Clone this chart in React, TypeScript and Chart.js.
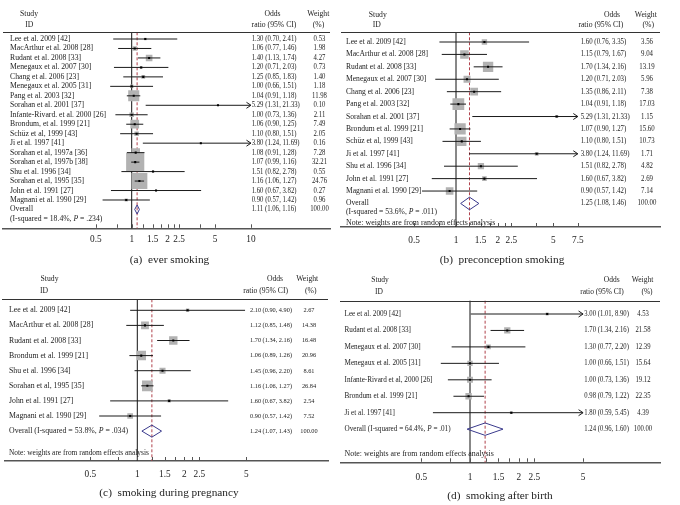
import React, { useEffect, useRef } from 'react';
import { Chart, registerables } from 'chart.js';

Chart.register(...registerables);

const SERIF = '"Liberation Serif", "DejaVu Serif", serif';
const NOTE = 'Note: weights are from random effects analysis';

// ---------- (a) ever smoking ----------
const aStudies = ['Lee et al. 2009 [42]', 'MacArthur et al. 2008 [28]', 'Rudant et al. 2008 [33]', 'Menegaux et al. 2007 [30]', 'Chang et al. 2006 [23]', 'Menegaux et al. 2005 [31]', 'Pang et al. 2003 [32]', 'Sorahan et al. 2001 [37]', 'Infante-Rivard. et al. 2000 [26]', 'Brondum, et al. 1999 [21]', 'Schüz et al, 1999 [43]', 'Ji et al. 1997 [41]', 'Sorahan et al, 1997a [36]', 'Sorahan et al, 1997b [38]', 'Shu et al. 1996 [34]', 'Sorahan et al, 1995 [35]', 'John et al. 1991 [27]', 'Magnani et al. 1990 [29]'];
const aOR = [1.30, 1.06, 1.40, 1.20, 1.25, 1.00, 1.04, 5.29, 1.00, 1.06, 1.10, 3.80, 1.08, 1.07, 1.51, 1.16, 1.60, 0.90];
const aLo = [0.70, 0.77, 1.13, 0.71, 0.85, 0.66, 0.91, 1.31, 0.73, 0.90, 0.80, 1.24, 0.91, 0.99, 0.82, 1.06, 0.67, 0.57];
const aHi = [2.41, 1.46, 1.74, 2.03, 1.83, 1.51, 1.18, 21.33, 1.36, 1.25, 1.51, 11.69, 1.28, 1.16, 2.78, 1.27, 3.82, 1.42];
const aWeight = [0.53, 1.98, 4.27, 0.73, 1.40, 1.18, 11.98, 0.10, 2.11, 7.49, 2.05, 0.16, 7.28, 32.21, 0.55, 24.76, 0.27, 0.96];
const aOverall = [1.11, 1.06, 1.16];
const aI2 = '18.4%';
const aP = '.234';
const aTicks = [0.5, 0.75, 1, 1.25, 1.5, 1.75, 2, 2.25, 2.5, 3.75, 5, 10];
const aTickLabels = ['0.5', '1', '1.5', '2', '2.5', '5', '10'];

// ---------- (b) preconception smoking ----------
const bStudies = ['Lee et al. 2009 [42]', 'MacArthur et al. 2008 [28]', 'Rudant et al. 2008 [33]', 'Menegaux et al. 2007 [30]', 'Chang et al. 2006 [23]', 'Pang et al. 2003 [32]', 'Sorahan et al. 2001 [37]', 'Brondum et al. 1999 [21]', 'Schüz et al, 1999 [43]', 'Ji et al. 1997 [41]', 'Shu et al. 1996 [34]', 'John et al. 1991 [27]', 'Magnani et al. 1990 [29]'];
const bOR = [1.60, 1.15, 1.70, 1.20, 1.35, 1.04, 5.29, 1.07, 1.10, 3.80, 1.51, 1.60, 0.90];
const bLo = [0.76, 0.79, 1.34, 0.71, 0.86, 0.91, 1.31, 0.90, 0.80, 1.24, 0.82, 0.67, 0.57];
const bHi = [3.35, 1.67, 2.16, 2.03, 2.11, 1.18, 21.33, 1.27, 1.51, 11.69, 2.78, 3.82, 1.42];
const bWeight = [3.56, 9.04, 13.19, 5.96, 7.38, 17.03, 1.15, 15.60, 10.73, 1.71, 4.82, 2.69, 7.14];
const bOverall = [1.25, 1.08, 1.46];
const bI2 = '53.6%';
const bP = '.011';
const bTicks = [0.5, 0.75, 1, 1.25, 1.5, 1.75, 2, 2.25, 2.5, 3.75, 5, 7.5];
const bTickLabels = ['0.5', '1', '1.5', '2', '2.5', '5', '7.5'];

// ---------- (c) smoking during pregnancy ----------
const cStudies = ['Lee et al. 2009 [42]', 'MacArthur et al. 2008 [28]', 'Rudant et al. 2008 [33]', 'Brondum et al. 1999 [21]', 'Shu et al. 1996 [34]', 'Sorahan et al, 1995 [35]', 'John et al. 1991 [27]', 'Magnani et al. 1990 [29]'];
const cOR = [2.10, 1.12, 1.70, 1.06, 1.45, 1.16, 1.60, 0.90];
const cLo = [0.90, 0.85, 1.34, 0.89, 0.96, 1.06, 0.67, 0.57];
const cHi = [4.90, 1.48, 2.16, 1.26, 2.20, 1.27, 3.82, 1.42];
const cWeight = [2.67, 14.38, 16.48, 20.96, 8.61, 26.84, 2.54, 7.52];
const cOverall = [1.24, 1.07, 1.43];
const cI2 = '53.8%';
const cP = '.034';
const cTicks = [0.5, 0.75, 1, 1.25, 1.5, 1.75, 2, 2.25, 2.5, 5];
const cTickLabels = ['0.5', '1', '1.5', '2', '2.5', '5'];

// ---------- (d) smoking after birth ----------
const dStudies = ['Lee et al. 2009 [42]', 'Rudant et al. 2008 [33]', 'Menegaux et al. 2007 [30]', 'Menegaux et al. 2005 [31]', 'Infante-Rivard et al, 2000 [26]', 'Brondum et al. 1999 [21]', 'Ji et al. 1997 [41]'];
const dOR = [3.00, 1.70, 1.30, 1.00, 1.00, 0.98, 1.80];
const dLo = [1.01, 1.34, 0.77, 0.66, 0.73, 0.79, 0.59];
const dHi = [8.90, 2.16, 2.20, 1.51, 1.36, 1.22, 5.45];
const dWeight = [4.53, 21.58, 12.39, 15.64, 19.12, 22.35, 4.39];
const dOverall = [1.24, 0.96, 1.60];
const dI2 = '64.4%';
const dP = '.01';
const dTicks = [0.5, 0.75, 1, 1.25, 1.5, 1.75, 2, 2.25, 2.5, 5];
const dTickLabels = ['0.5', '1', '1.5', '2', '2.5', '5'];

const aLayout = {
  left: 0, top: 0, width: 340, height: 270,
  axisL: 3, axisR: 330, x1: 131.7, perDbl: 35.9,
  headerY: 32.3, axisY: 228.3, row0: 39, dy: 9.47,
  labelX: 10, orX: 251.7, wX: 319.5,
  head: { studyX: 29, idX: 29.3, oddsX: 272.5, ratioX: 274, weightX: 318.3, pctX: 318.5, y1: 14, y2: 25, lineL: 3, lineR: 330 },
  labelFont: 7.7, numFont: 7.6, numSX: 0.885, headFont: 7.7, noteFont: 7.8,
  boxK: 3.2, diamondH: 4.5, clip: 10,
  twoLine: true, secondDy: 9.7, noteDy: null,
  tickPad: 6.2,
  caption: '(a)  ever smoking', captionX: 169.5, captionY: 260,
};
const bLayout = {
  left: 340, top: 0, width: 340, height: 270,
  axisL: 341, axisR: 660, x1: 456, perDbl: 41.9,
  headerY: 32.3, axisY: 227, row0: 42, dy: 12.42,
  labelX: 346, orX: 580.7, wX: 647,
  head: { studyX: 377.8, idX: 376.8, oddsX: 612, ratioX: 600.8, weightX: 645.8, pctX: 648.3, y1: 15, y2: 25, lineL: 341, lineR: 660 },
  labelFont: 7.6, numFont: 7.6, numSX: 0.9, headFont: 7.7, noteFont: 7.9,
  boxK: 2.85, diamondH: 6.3, clip: 7.5,
  twoLine: true, secondDy: 9, noteDy: 19,
  tickPad: 8.5,
  caption: '(b)  preconception smoking', captionX: 502, captionY: 260,
};
const cLayout = {
  left: 0, top: 270, width: 340, height: 235,
  axisL: 5, axisR: 328, x1: 137.3, perDbl: 47,
  headerY: 299.3, axisY: 461, row0: 310.3, dy: 15.1,
  labelX: 9, orX: 250, wX: 309,
  head: { studyX: 49.5, idX: 44, oddsX: 275, ratioX: 265.7, weightX: 307.2, pctX: 310.8, y1: 279.3, y2: 290.7, lineL: 2, lineR: 328 },
  labelFont: 7.8, numFont: 7.0, numSX: 0.9, headFont: 7.7, noteFont: 7.4,
  boxK: 2.07, diamondH: 6, clip: 5,
  twoLine: false, secondDy: 0, noteDy: 22,
  tickPad: 8.8,
  caption: '(c)  smoking during pregnancy', captionX: 169, captionY: 493.3,
};
const dLayout = {
  left: 340, top: 270, width: 340, height: 235,
  axisL: 341, axisR: 660, x1: 470, perDbl: 48.7,
  headerY: 300.7, axisY: 462.3, row0: 314, dy: 16.45,
  labelX: 344.5, orX: 584.3, wX: 643,
  head: { studyX: 380, idX: 379, oddsX: 611.7, ratioX: 602, weightX: 642.5, pctX: 647, y1: 280, y2: 291.7, lineL: 340, lineR: 660 },
  labelFont: 7.2, numFont: 7.2, numSX: 0.93, headFont: 7.5, noteFont: 7.9,
  boxK: 1.35, diamondH: 6.2, clip: 5,
  twoLine: false, secondDy: 0, noteDy: 24.8,
  tickPad: 10.5,
  caption: '(d)  smoking after birth', captionX: 500, captionY: 496,
};

function drawRich(ctx: CanvasRenderingContext2D, parts: [string, boolean][], x: number, y: number, size: number) {
  let cx = x;
  ctx.textAlign = 'left';
  for (const [t, it] of parts) {
    ctx.font = `${it ? 'italic ' : ''}${size}px ${SERIF}`;
    ctx.fillText(t, cx, y);
    cx += ctx.measureText(t).width;
  }
}

// numbers are set in a slightly condensed face in the original
function fillCondensed(ctx: CanvasRenderingContext2D, t: string, x: number, y: number, sx: number) {
  const w = ctx.measureText(t).width;
  ctx.fillText(t, x, y, w * sx);
}

function Forest(props: any) {
  const { studies, or, lo, hi, weight, overall, i2, p, ticks, tickLabels, L } = props;
  const ref = useRef<HTMLCanvasElement>(null);

  useEffect(() => {
    const cv = ref.current!;
    const X = (v: number) => v - L.left;
    const Y = (v: number) => v - L.top;
    const n = studies.length;
    const xmin = Math.pow(2, (L.axisL - L.x1) / L.perDbl);
    const xmax = Math.pow(2, (L.axisR - L.x1) / L.perDbl);
    const ymin = -(L.row0 - L.headerY) / L.dy;
    const ymax = ymin + (L.axisY - L.headerY) / L.dy;
    const pts = studies.map((_: string, i: number) => ({ x: or[i], y: i }));
    const fmt = (v: number) => v.toFixed(2);

    const plugin = {
      id: 'forest',
      beforeDatasetsDraw(chart: any) {
        const ctx = chart.ctx;
        const xs = chart.scales.x;
        const a = chart.chartArea;
        ctx.save();
        const p1 = xs.getPixelForValue(1);
        ctx.strokeStyle = '#111';
        ctx.lineWidth = 1;
        ctx.beginPath();
        ctx.moveTo(p1, a.top);
        ctx.lineTo(p1, a.bottom);
        ctx.stroke();
        const po = xs.getPixelForValue(overall[0]);
        ctx.strokeStyle = '#b0404a';
        ctx.setLineDash([3, 2]);
        ctx.beginPath();
        ctx.moveTo(po, a.top);
        ctx.lineTo(po, a.bottom);
        ctx.stroke();
        ctx.restore();
      },
      afterDatasetDraw(chart: any, args: any) {
        if (args.index !== 1) return;
        const ctx = chart.ctx;
        const xs = chart.scales.x;
        const ys = chart.scales.y;
        ctx.save();
        ctx.strokeStyle = '#1a1a1a';
        ctx.lineWidth = 1;
        for (let i = 0; i < n; i++) {
          const y = ys.getPixelForValue(i);
          const xl = xs.getPixelForValue(lo[i]);
          const clipped = hi[i] > L.clip;
          const xh = xs.getPixelForValue(clipped ? L.clip : hi[i]);
          ctx.beginPath();
          ctx.moveTo(xl, y);
          ctx.lineTo(xh, y);
          if (clipped) {
            ctx.moveTo(xh - 4.5, y - 3);
            ctx.lineTo(xh, y);
            ctx.lineTo(xh - 4.5, y + 3);
          }
          ctx.stroke();
        }
        ctx.restore();
      },
      afterDraw(chart: any) {
        const ctx = chart.ctx;
        const xs = chart.scales.x;
        const ys = chart.scales.y;
        const a = chart.chartArea;
        ctx.save();
        ctx.strokeStyle = '#555';
        ctx.lineWidth = 1;
        for (const t of xs.ticks) {
          const px = Math.round(xs.getPixelForValue(t.value)) + 0.5;
          ctx.beginPath();
          ctx.moveTo(px, a.bottom - 0.5);
          ctx.lineTo(px, a.bottom - 4);
          ctx.stroke();
        }
        ctx.fillStyle = '#222';
        ctx.textBaseline = 'middle';
        ctx.textAlign = 'center';
        ctx.font = `${L.headFont}px ${SERIF}`;
        const h = L.head;
        ctx.fillText('Study', X(h.studyX), Y(h.y1));
        ctx.fillText('ID', X(h.idX), Y(h.y2));
        ctx.fillText('Odds', X(h.oddsX), Y(h.y1));
        ctx.fillText('ratio (95% CI)', X(h.ratioX), Y(h.y2));
        ctx.fillText('Weight', X(h.weightX), Y(h.y1));
        ctx.fillText('(%)', X(h.pctX), Y(h.y2));
        ctx.strokeStyle = '#333';
        ctx.beginPath();
        ctx.moveTo(X(h.lineL), Math.round(Y(L.headerY)) + 0.5);
        ctx.lineTo(X(h.lineR), Math.round(Y(L.headerY)) + 0.5);
        ctx.stroke();
        for (let i = 0; i < n; i++) {
          const y = ys.getPixelForValue(i);
          ctx.textAlign = 'left';
          ctx.font = `${L.labelFont}px ${SERIF}`;
          ctx.fillText(studies[i], X(L.labelX), y);
          ctx.font = `${L.numFont}px ${SERIF}`;
          fillCondensed(ctx, `${fmt(or[i])} (${fmt(lo[i])}, ${fmt(hi[i])})`, X(L.orX), y, L.numSX);
          ctx.textAlign = 'center';
          fillCondensed(ctx, fmt(weight[i]), X(L.wX), y, L.numSX);
        }
        const yo = ys.getPixelForValue(n);
        const het: [string, boolean][] = [[`(I-squared = ${i2}, `, false], ['P', true], [` = ${p})`, false]];
        if (L.twoLine) {
          ctx.textAlign = 'left';
          ctx.font = `${L.labelFont}px ${SERIF}`;
          ctx.fillText('Overall', X(L.labelX), yo);
          drawRich(ctx, het, X(L.labelX), yo + L.secondDy, L.labelFont);
        } else {
          drawRich(ctx, [['Overall ', false], ...het], X(L.labelX), yo, L.labelFont);
        }
        ctx.textAlign = 'left';
        ctx.font = `${L.numFont}px ${SERIF}`;
        fillCondensed(ctx, `${fmt(overall[0])} (${fmt(overall[1])}, ${fmt(overall[2])})`, X(L.orX), yo, L.numSX);
        ctx.textAlign = 'center';
        fillCondensed(ctx, '100.00', X(L.wX), yo, L.numSX);
        const dl = xs.getPixelForValue(overall[1]);
        const dc = xs.getPixelForValue(overall[0]);
        const dr = xs.getPixelForValue(overall[2]);
        ctx.strokeStyle = '#3a3a8c';
        ctx.lineWidth = 1;
        ctx.beginPath();
        ctx.moveTo(dl, yo);
        ctx.lineTo(dc, yo - L.diamondH);
        ctx.lineTo(dr, yo);
        ctx.lineTo(dc, yo + L.diamondH);
        ctx.closePath();
        ctx.stroke();
        if (L.noteDy !== null) {
          ctx.textAlign = 'left';
          ctx.font = `${L.noteFont}px ${SERIF}`;
          ctx.fillText(NOTE, X(L.labelX), yo + L.noteDy);
        }
        ctx.textAlign = 'center';
        ctx.font = `11.3px ${SERIF}`;
        ctx.fillText(L.caption, X(L.captionX), Y(L.captionY));
        ctx.restore();
      },
    };

    const chart = new Chart(cv, {
      type: 'scatter',
      data: {
        datasets: [
          { data: pts, pointStyle: 'rect', pointRadius: 1.45, backgroundColor: '#000', borderWidth: 0 },
          {
            data: pts,
            pointStyle: 'rect',
            pointRadius: weight.map((w: number) => (L.boxK * Math.sqrt(w)) / Math.SQRT2),
            backgroundColor: '#b2b2b2',
            borderWidth: 0,
          },
        ],
      },
      options: {
        animation: false,
        responsive: false,
        maintainAspectRatio: false,
        events: [],
        layout: { autoPadding: false, padding: { left: X(L.axisL), right: L.width - X(L.axisR), top: Y(L.headerY), bottom: 0 } },
        plugins: { legend: { display: false }, tooltip: { enabled: false }, title: { display: false } },
        scales: {
          x: {
            type: 'logarithmic',
            min: xmin,
            max: xmax,
            bounds: 'data',
            afterBuildTicks: (s: any) => { s.ticks = ticks.map((v: number) => ({ value: v })); },
            afterFit: (s: any) => { s.height = L.height - Y(L.axisY); },
            grid: { display: false, drawTicks: false, tickLength: 0 },
            border: { display: true, color: '#555', width: 1.5 },
            ticks: {
              autoSkip: false, maxRotation: 0, minRotation: 0, padding: L.tickPad, color: '#222',
              font: { family: SERIF, size: 9.3, lineHeight: 1 },
              callback: (v: any) => (tickLabels.includes(String(v)) ? String(v) : ''),
            },
          },
          y: { type: 'linear', display: false, reverse: true, min: ymin, max: ymax },
        },
      },
      plugins: [plugin],
    } as any);
    return () => chart.destroy();
  }, []);

  return (
    <canvas ref={ref} width={L.width} height={L.height}
      style={{ position: 'absolute', left: L.left, top: L.top, width: L.width, height: L.height }} />
  );
}

export default function App() {
  return (
    <div style={{ position: 'fixed', left: 0, top: 0, width: 680, height: 505, background: '#fff', overflow: 'hidden' }}>
      <Forest studies={aStudies} or={aOR} lo={aLo} hi={aHi} weight={aWeight} overall={aOverall} i2={aI2} p={aP} ticks={aTicks} tickLabels={aTickLabels} L={aLayout} />
      <Forest studies={bStudies} or={bOR} lo={bLo} hi={bHi} weight={bWeight} overall={bOverall} i2={bI2} p={bP} ticks={bTicks} tickLabels={bTickLabels} L={bLayout} />
      <Forest studies={cStudies} or={cOR} lo={cLo} hi={cHi} weight={cWeight} overall={cOverall} i2={cI2} p={cP} ticks={cTicks} tickLabels={cTickLabels} L={cLayout} />
      <Forest studies={dStudies} or={dOR} lo={dLo} hi={dHi} weight={dWeight} overall={dOverall} i2={dI2} p={dP} ticks={dTicks} tickLabels={dTickLabels} L={dLayout} />
    </div>
  );
}
